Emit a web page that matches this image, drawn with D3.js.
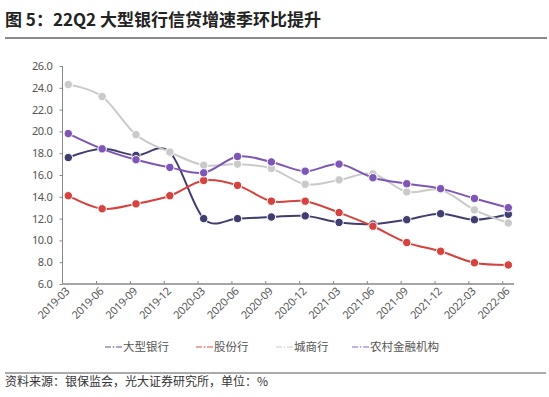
<!DOCTYPE html>
<html>
<head>
<meta charset="utf-8">
<script src="https://cdn.jsdelivr.net/npm/d3@7"></script>
<style>
  body { margin: 0; background: #fff; }
  text { font-family: "Noto Sans CJK SC", "Noto Sans", sans-serif; }
</style>
</head>
<body>
<script>
// data (%)
var quarters = ["2019-03","2019-06","2019-09","2019-12","2020-03","2020-06","2020-09","2020-12","2021-03","2021-06","2021-09","2021-12","2022-03","2022-06"];
var bigBanks   = [17.6, 18.4, 17.8, 18.1, 12.0, 12.0, 12.15, 12.25, 11.65, 11.5, 11.9, 12.45, 11.9, 12.4];
var jointStock = [14.1, 12.9, 13.35, 14.1, 15.5, 15.05, 13.6, 13.6, 12.55, 11.3, 9.8, 9.0, 7.95, 7.75];
var cityBanks  = [24.3, 23.2, 19.7, 18.1, 16.9, 17.0, 16.6, 15.15, 15.55, 16.1, 14.45, 14.65, 12.8, 11.6];
var rural      = [19.8, 18.4, 17.4, 16.7, 16.2, 17.7, 17.2, 16.35, 17.0, 15.75, 15.2, 14.75, 13.85, 13.0];
var seriesNames = ["大型银行","股份行","城商行","农村金融机构"];
var yTicks = [6,8,10,12,14,16,18,20,22,24,26];

var colors = ["#403e6e", "#d6433f", "#cacaca", "#7e56b6"];
var legendColors = ["#8f8db0", "#e98a87", "#dddddd", "#b09bd6"];

var W = 549, H = 397;
var svg = d3.select("body").append("svg").attr("width", W).attr("height", H);

// title
svg.append("text").attr("x", 5).attr("y", 26)
  .attr("font-size", "17px").attr("font-weight", "bold").attr("fill", "#222")
  .text("图 5：22Q2 大型银行信贷增速季环比提升");
svg.append("line").attr("x1", 5).attr("x2", 547).attr("y1", 38).attr("y2", 38)
  .attr("stroke", "#8a8a8a").attr("stroke-width", 2);

// scales
var x = d3.scalePoint().domain(quarters).range([68.3, 508.3]);
var y = d3.scaleLinear().domain([6, 26]).range([284, 66]);

// y axis
var yAxis = svg.append("g").attr("transform", "translate(62.5,0)")
  .call(d3.axisLeft(y).tickValues(yTicks).tickFormat(d3.format(".1f")).tickSize(3).tickPadding(7));
yAxis.select(".domain").attr("stroke", "#888").attr("d", "M0," + y(26) + "V" + y(6));
yAxis.selectAll(".tick line").attr("stroke", "#888");
yAxis.selectAll("text").attr("font-size", "11px").attr("fill", "#555")
  .style("font-family", "'Noto Sans', sans-serif").attr("letter-spacing", "-0.3px");

// x axis line + ticks (ticks sit a little left of the data points)
var xAxisG = svg.append("g");
xAxisG.append("line").attr("x1", 62.5).attr("x2", 514).attr("y1", y(6)).attr("y2", y(6))
  .attr("stroke", "#888").attr("stroke-width", 1.5);
xAxisG.selectAll("line.tk").data(quarters.slice(1)).enter().append("line").attr("class", "tk")
  .attr("x1", function(d) { return x(d) - 5.6; })
  .attr("x2", function(d) { return x(d) - 5.6; })
  .attr("y1", y(6)).attr("y2", y(6) - 3)
  .attr("stroke", "#888");
xAxisG.selectAll("text").data(quarters).enter().append("text")
  .attr("transform", function(d) { return "translate(" + (x(d) + 2) + "," + 292 + ") rotate(-45)"; })
  .attr("text-anchor", "end")
  .attr("font-size", "11px").attr("fill", "#555")
  .style("font-family", "'Noto Sans', sans-serif").attr("letter-spacing", "-0.3px")
  .text(function(d) { return d; });

// lines
var allSeries = [bigBanks, jointStock, cityBanks, rural];
var line = d3.line()
  .x(function(d, i) { return x(quarters[i]); })
  .y(function(d) { return y(d); })
  .curve(d3.curveCardinal.tension(0));

allSeries.forEach(function(vals, k) {
  var g = svg.append("g");
  g.append("path").datum(vals).attr("d", line)
    .attr("fill", "none").attr("stroke", colors[k]).attr("stroke-width", 2);
  g.selectAll("circle").data(vals).enter().append("circle")
    .attr("cx", function(d, i) { return x(quarters[i]); })
    .attr("cy", function(d) { return y(d); })
    .attr("r", 4.2)
    .attr("fill", colors[k]).attr("stroke", "#fff").attr("stroke-width", 1);
});

// legend
var legendX = [105, 196, 276, 352];
var leg = svg.append("g");
seriesNames.forEach(function(name, k) {
  var lx = legendX[k], ly = 347;
  leg.append("line").attr("x1", lx).attr("x2", lx + 6).attr("y1", ly).attr("y2", ly)
    .attr("stroke", legendColors[k]).attr("stroke-width", 1.5);
  leg.append("circle").attr("cx", lx + 8.5).attr("cy", ly).attr("r", 0.9).attr("fill", legendColors[k]);
  leg.append("line").attr("x1", lx + 11).attr("x2", lx + 17).attr("y1", ly).attr("y2", ly)
    .attr("stroke", legendColors[k]).attr("stroke-width", 1.5);
  leg.append("text").attr("x", lx + 18).attr("y", ly + 4)
    .attr("font-size", "11.5px").attr("fill", "#555").text(name);
});

// footer
svg.append("line").attr("x1", 5).attr("x2", 546).attr("y1", 373).attr("y2", 373)
  .attr("stroke", "#555").attr("stroke-width", 1);
svg.append("text").attr("x", 5).attr("y", 386)
  .attr("font-size", "12px").attr("fill", "#333")
  .text("资料来源：银保监会，光大证券研究所，单位：%");
</script>
</body>
</html>
